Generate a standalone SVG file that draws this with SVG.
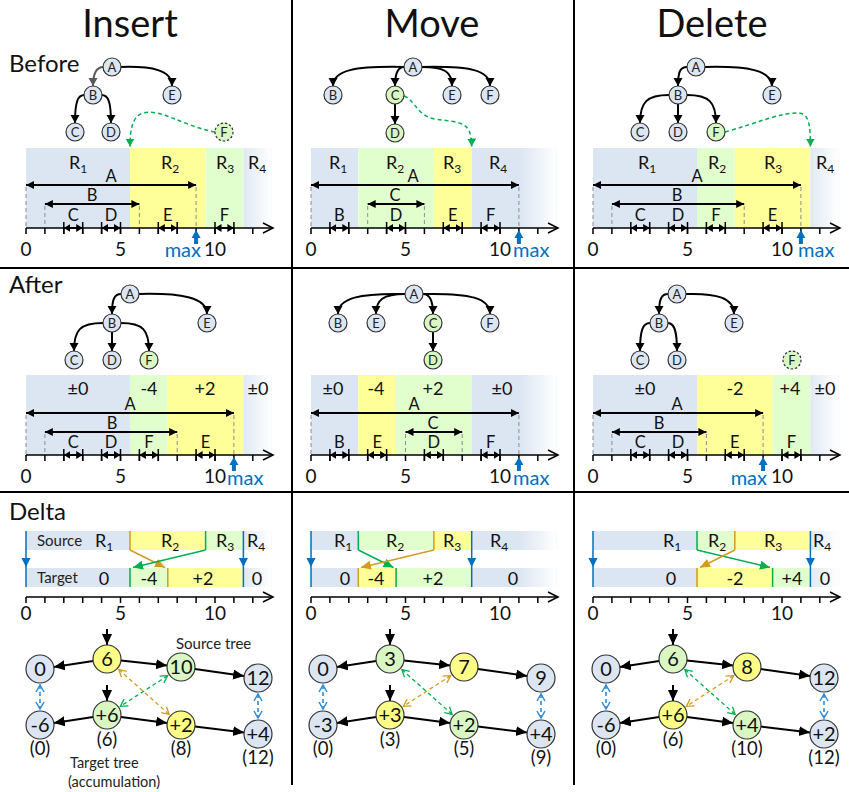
<svg xmlns="http://www.w3.org/2000/svg" width="849" height="792" viewBox="0 0 849 792">
<defs>
<style>
text{font-family:Lato,"Open Sans","DejaVu Sans",sans-serif;fill:#111}
.hd{font-size:38px;text-anchor:middle}
.rl{font-size:24px}
.nt{font-size:13px;text-anchor:middle;fill:#222}
.bl{font-size:18px;text-anchor:middle}
.sb{font-size:12px}
.il{font-size:16.5px;text-anchor:middle}
.num{font-size:19px;text-anchor:middle}
.mx{font-size:20px;fill:#0070C0}
.lb{font-size:15px;fill:#222}
.lbs{font-size:14.5px;fill:#222}
.tn{font-size:20px;text-anchor:middle}
.pc{font-size:18.5px;text-anchor:middle}
.nb{fill:#DCE6F2;stroke:#333;stroke-width:1.2}
.ng{fill:#D9F7C3;stroke:#333;stroke-width:1.2}
.ny{fill:#FFFF88;stroke:#333;stroke-width:1.2}
.dsh{stroke-dasharray:2.5 1.8}
.bb{fill:#DCE6F2}.by{fill:#FFFF99}.bg{fill:#E0FFCC}
.fd{fill:url(#fade)}
.e{fill:none;stroke:#000;stroke-width:2;marker-end:url(#te)}
.eg{fill:none;stroke:#595959;stroke-width:2;marker-end:url(#teg)}
.ax{fill:none;stroke:#000;stroke-width:1.5}
.lg{stroke:#000;stroke-width:2;marker-start:url(#ah);marker-end:url(#ah)}
.sv{stroke:#000;stroke-width:2;marker-start:url(#ahs);marker-end:url(#ahs)}
.et{fill:none;stroke:#000;stroke-width:1.5}
.gd{fill:none;stroke:#8C8C8C;stroke-width:1;stroke-dasharray:4 3}
.gm{fill:none;stroke:#00B050;stroke-width:1.5;stroke-dasharray:4 3;marker-end:url(#gah)}
.mxa{fill:#0070C0}
.og{fill:none;stroke:#D49B1E;stroke-width:1.5}
.gn{fill:none;stroke:#00B050;stroke-width:1.5}
.bu{fill:none;stroke:#0070C0;stroke-width:1.5}
.oga{marker-end:url(#oa)}
.gna{marker-end:url(#ga)}
.bh{fill:#0070C0}
.de{fill:none;stroke:#000;stroke-width:2;marker-end:url(#dt)}
.xo{fill:none;stroke:#D49B1E;stroke-width:1.3;stroke-dasharray:4 3;marker-start:url(#oc);marker-end:url(#oc)}
.xg{fill:none;stroke:#00B050;stroke-width:1.3;stroke-dasharray:4 3;marker-start:url(#gc);marker-end:url(#gc)}
.xb{fill:none;stroke:#2E8BD8;stroke-width:1.6;stroke-dasharray:4 3;marker-start:url(#bc);marker-end:url(#bc)}
.grid{stroke:#000;stroke-width:2}
</style>
<linearGradient id="fade" x1="0" y1="0" x2="1" y2="0">
<stop offset="0" stop-color="#fff" stop-opacity="0"/>
<stop offset="1" stop-color="#fff" stop-opacity="1"/>
</linearGradient>
<marker id="te" markerUnits="userSpaceOnUse" markerWidth="10" markerHeight="10" refX="8" refY="4.5" orient="auto"><path d="M0,0L8,4.5L0,9z"/></marker>
<marker id="teg" markerUnits="userSpaceOnUse" markerWidth="10" markerHeight="10" refX="8" refY="4.5" orient="auto"><path d="M0,0L8,4.5L0,9z" fill="#595959"/></marker>
<marker id="ah" markerUnits="userSpaceOnUse" markerWidth="9" markerHeight="9" refX="8" refY="4" orient="auto-start-reverse"><path d="M0,0L8,4L0,8z"/></marker>
<marker id="ahs" markerUnits="userSpaceOnUse" markerWidth="8" markerHeight="9" refX="6.5" refY="4" orient="auto-start-reverse"><path d="M0,0L6.5,4L0,8z"/></marker>
<marker id="axh" markerUnits="userSpaceOnUse" markerWidth="12" markerHeight="12" refX="10" refY="5" orient="auto" overflow="visible"><path d="M0,0L10,5L0,10" fill="none" stroke="#000" stroke-width="1.5"/></marker>
<marker id="gah" markerUnits="userSpaceOnUse" markerWidth="10" markerHeight="10" refX="8" refY="4.5" orient="auto"><path d="M0,0L8,4.5L0,9z" fill="#00B050"/></marker>
<marker id="oa" markerUnits="userSpaceOnUse" markerWidth="11" markerHeight="10" refX="10" refY="4.5" orient="auto"><path d="M0,0L10,4.5L0,9z" fill="#D49B1E"/></marker>
<marker id="ga" markerUnits="userSpaceOnUse" markerWidth="11" markerHeight="10" refX="10" refY="4.5" orient="auto"><path d="M0,0L10,4.5L0,9z" fill="#00B050"/></marker>
<marker id="dt" markerUnits="userSpaceOnUse" markerWidth="12" markerHeight="12" refX="11" refY="5" orient="auto"><path d="M0,0L11,5L0,10z"/></marker>
<marker id="oc" markerUnits="userSpaceOnUse" markerWidth="10" markerHeight="10" refX="7" refY="4" orient="auto-start-reverse" overflow="visible"><path d="M0,0L7,4L0,8" fill="none" stroke="#D49B1E" stroke-width="1.3"/></marker>
<marker id="gc" markerUnits="userSpaceOnUse" markerWidth="10" markerHeight="10" refX="7" refY="4" orient="auto-start-reverse" overflow="visible"><path d="M0,0L7,4L0,8" fill="none" stroke="#00B050" stroke-width="1.3"/></marker>
<marker id="bc" markerUnits="userSpaceOnUse" markerWidth="10" markerHeight="10" refX="7" refY="4" orient="auto-start-reverse" overflow="visible"><path d="M0,0L7,4L0,8" fill="none" stroke="#2E8BD8" stroke-width="1.5"/></marker>
<g id="axis">
<path class="ax" d="M26,0H273" marker-end="url(#axh)"/>
<path class="ax" d="M26,0v6m18.9,-6v6m18.9,-6v6m18.9,-6v6m18.9,-6v6m18.9,-6v6m18.9,-6v6m18.9,-6v6m18.9,-6v6m18.9,-6v6m18.9,-6v6m18.9,-6v6m18.9,-6v6"/>
</g>
</defs>

<rect width="849" height="792" fill="#fff"/>

<!-- frame -->
<g id="grid">
<line class="grid" x1="292" y1="0" x2="292" y2="785"/>
<line class="grid" x1="574" y1="0" x2="574" y2="785"/>
<line class="grid" x1="0" y1="268" x2="849" y2="268"/>
<line class="grid" x1="0" y1="492" x2="849" y2="492"/>
</g>

<g id="titles">
<text class="hd" x="130" y="37">Insert</text>
<text class="hd" x="432" y="37">Move</text>
<text class="hd" x="712" y="37">Delete</text>
<text class="rl" x="9" y="72">Before</text>
<text class="rl" x="9" y="293">After</text>
<text class="rl" x="9" y="520">Delta</text>
</g>

<!-- ================= INSERT ================= -->
<g id="insert">
 <g id="ins-before-bands">
  <rect class="bb" x="26" y="148" width="104" height="80"/>
  <rect class="by" x="130" y="148" width="75.6" height="80"/>
  <rect class="bg" x="205.6" y="148" width="37.8" height="80"/>
  <rect class="bb" x="243.4" y="148" width="28.3" height="80"/>
  <rect class="fd" x="239.6" y="148" width="32.1" height="80"/>
  <text class="bl" x="78" y="169">R<tspan class="sb" dy="4">1</tspan></text>
  <text class="bl" x="170" y="169">R<tspan class="sb" dy="4">2</tspan></text>
  <text class="bl" x="225" y="169">R<tspan class="sb" dy="4">3</tspan></text>
  <text class="bl" x="257" y="169">R<tspan class="sb" dy="4">4</tspan></text>
 </g>
 <g id="ins-before-intervals">
  <path class="gd" d="M26,187V228M196.1,187V228M44.9,206V228M139.4,206V228"/>
  <line class="lg" x1="26" y1="185" x2="196.1" y2="185"/>
  <line class="lg" x1="44.9" y1="204" x2="139.4" y2="204"/>
  <text class="il" x="111" y="182">A</text>
  <text class="il" x="92" y="201">B</text>
  <use href="#axis" y="228"/>
  <path class="et" d="M63.8,222v12M82.7,222v12M101.6,222v12M120.5,222v12M158.3,222v12M177.2,222v12M215,222v12M233.9,222v12"/>
  <line class="sv" x1="63.8" y1="228" x2="82.7" y2="228"/>
  <line class="sv" x1="101.6" y1="228" x2="120.5" y2="228"/>
  <line class="sv" x1="158.3" y1="228" x2="177.2" y2="228"/>
  <line class="sv" x1="215" y1="228" x2="233.9" y2="228"/>
  <text class="il" x="73.3" y="221">C</text>
  <text class="il" x="111" y="221">D</text>
  <text class="il" x="167.8" y="221">E</text>
  <text class="il" x="224.5" y="221">F</text>
  <text class="num" x="26" y="256">0</text>
  <text class="num" x="120.5" y="256">5</text>
  <text class="num" x="215" y="256">10</text>
  <path class="mxa" d="M196.1,230l4.5,8h-2.5v6h-4v-6h-2.5z"/>
  <text class="mx" x="201" y="257" text-anchor="end">max</text>
 </g>
 <g id="ins-before-links">
  <path class="eg" d="M103.5,67C96,67 93,73 93,86"/>
  <path class="e" d="M120.5,67C152,66 172,70 172,86"/>
  <path class="e" d="M84.5,95C78,95 75,101 75,123"/>
  <path class="e" d="M101.5,95C108,95 111,101 111,123"/>
  <path class="gm" d="M215,132C183,126 160,108 143,113C133,116 130,128 130,146.5"/>
 </g>
 <g id="ins-b-A"><circle class="nb" cx="112" cy="67" r="9"/><text class="nt" x="112" y="71.5">A</text></g>
 <g id="ins-b-B"><circle class="nb" cx="93" cy="95" r="9"/><text class="nt" x="93" y="99.5">B</text></g>
 <g id="ins-b-E"><circle class="nb" cx="172" cy="95" r="9"/><text class="nt" x="172" y="99.5">E</text></g>
 <g id="ins-b-C"><circle class="nb" cx="75" cy="132" r="9"/><text class="nt" x="75" y="136.5">C</text></g>
 <g id="ins-b-D"><circle class="nb" cx="111" cy="132" r="9"/><text class="nt" x="111" y="136.5">D</text></g>
 <g id="ins-b-F"><circle class="ng dsh" cx="224" cy="132" r="9"/><text class="nt" x="224" y="136.5">F</text></g>

 <g id="ins-after-bands">
  <rect class="bb" x="26" y="375" width="104" height="80"/>
  <rect class="bg" x="130" y="375" width="37.8" height="80"/>
  <rect class="by" x="167.8" y="375" width="75.6" height="80"/>
  <rect class="bb" x="243.4" y="375" width="28.3" height="80"/>
  <rect class="fd" x="239.6" y="375" width="32.1" height="80"/>
  <text class="bl" x="78" y="395">±0</text>
  <text class="bl" x="149" y="395">-4</text>
  <text class="bl" x="205" y="395">+2</text>
  <text class="bl" x="258" y="395">±0</text>
 </g>
 <g id="ins-after-intervals">
  <path class="gd" d="M26,415V455M233.9,415V455M44.9,434V455M177.2,434V455"/>
  <line class="lg" x1="26" y1="413" x2="233.9" y2="413"/>
  <line class="lg" x1="44.9" y1="432" x2="177.2" y2="432"/>
  <text class="il" x="130" y="410">A</text>
  <text class="il" x="112" y="429">B</text>
  <use href="#axis" y="455"/>
  <path class="et" d="M63.8,449v12M82.7,449v12M101.6,449v12M120.5,449v12M139.4,449v12M158.3,449v12M196.1,449v12M215,449v12"/>
  <line class="sv" x1="63.8" y1="455" x2="82.7" y2="455"/>
  <line class="sv" x1="101.6" y1="455" x2="120.5" y2="455"/>
  <line class="sv" x1="139.4" y1="455" x2="158.3" y2="455"/>
  <line class="sv" x1="196.1" y1="455" x2="215" y2="455"/>
  <text class="il" x="73.3" y="448">C</text>
  <text class="il" x="111" y="448">D</text>
  <text class="il" x="148.9" y="448">F</text>
  <text class="il" x="205.6" y="448">E</text>
  <text class="num" x="26" y="483">0</text>
  <text class="num" x="120.5" y="483">5</text>
  <text class="num" x="215" y="483">10</text>
  <path class="mxa" d="M233.9,457l4.5,8h-2.5v6h-4v-6h-2.5z"/>
  <text class="mx" x="227" y="485">max</text>
 </g>
 <g id="ins-after-links">
  <path class="e" d="M121,294C114,294 112,300 112,314"/>
  <path class="e" d="M139,294C180,293 207,297 207,314"/>
  <path class="e" d="M103,323C80,323 74,330 74,351"/>
  <path class="e" d="M112,332L112,351"/>
  <path class="e" d="M121,323C143,323 149,330 149,351"/>
 </g>
 <g id="ins-a-A"><circle class="nb" cx="130" cy="294" r="9"/><text class="nt" x="130" y="298.5">A</text></g>
 <g id="ins-a-B"><circle class="nb" cx="112" cy="323" r="9"/><text class="nt" x="112" y="327.5">B</text></g>
 <g id="ins-a-E"><circle class="nb" cx="207" cy="323" r="9"/><text class="nt" x="207" y="327.5">E</text></g>
 <g id="ins-a-C"><circle class="nb" cx="74" cy="360" r="9"/><text class="nt" x="74" y="364.5">C</text></g>
 <g id="ins-a-D"><circle class="nb" cx="112" cy="360" r="9"/><text class="nt" x="112" y="364.5">D</text></g>
 <g id="ins-a-F"><circle class="ng" cx="149" cy="360" r="9"/><text class="nt" x="149" y="364.5">F</text></g>

 <g id="ins-delta-bars">
  <rect class="bb" x="26" y="531" width="104" height="19"/>
  <rect class="by" x="130" y="531" width="75.6" height="19"/>
  <rect class="bg" x="205.6" y="531" width="37.8" height="19"/>
  <rect class="bb" x="243.4" y="531" width="28.3" height="19"/>
  <rect class="fd" x="239.6" y="531" width="32.1" height="19"/>
  <rect class="bb" x="26" y="568" width="104" height="19"/>
  <rect class="bg" x="130" y="568" width="37.8" height="19"/>
  <rect class="by" x="167.8" y="568" width="75.6" height="19"/>
  <rect class="bb" x="243.4" y="568" width="28.3" height="19"/>
  <rect class="fd" x="239.6" y="568" width="32.1" height="19"/>
  <text class="lb" x="37" y="546">Source</text>
  <text class="lb" x="37" y="583">Target</text>
  <text class="bl" x="104" y="547">R<tspan class="sb" dy="4">1</tspan></text>
  <text class="bl" x="170" y="547">R<tspan class="sb" dy="4">2</tspan></text>
  <text class="bl" x="225" y="547">R<tspan class="sb" dy="4">3</tspan></text>
  <text class="bl" x="256" y="547">R<tspan class="sb" dy="4">4</tspan></text>
  <text class="bl" x="104" y="585">0</text>
  <text class="bl" x="149" y="585">-4</text>
  <text class="bl" x="203" y="585">+2</text>
  <text class="bl" x="257" y="585">0</text>
 </g>
 <g id="ins-delta-links">
  <path class="og" d="M130,531V550M167.8,568V587"/>
  <path class="og oga" d="M130,550L165,567.5"/>
  <path class="gn" d="M205.6,531V550M130,568V587"/>
  <path class="gn gna" d="M205.6,550L133,567.5"/>
  <path class="bu" d="M26,531V587M243.4,531V587"/>
  <path class="bh" d="M21.5,558H30.5L26,567zM238.9,558H247.9L243.4,567z"/>
 </g>
 <use href="#axis" y="597"/>
 <text class="num" x="26" y="620">0</text>
 <text class="num" x="120.5" y="620">5</text>
 <text class="num" x="215" y="620">10</text>

 <g id="ins-tree-links">
  <path class="de" d="M107,629V645"/>
  <path class="de" d="M107,685V701"/>
  <path class="de" d="M93.2,661.1L53.8,666.9"/>
  <path class="de" d="M120.9,660.5L167.1,665.5"/>
  <path class="de" d="M194.9,669L244.1,676"/>
  <path class="de" d="M93.2,717.1L53.8,722.9"/>
  <path class="de" d="M120.9,716.9L167.1,723.1"/>
  <path class="de" d="M194.9,726.6L244.1,732.4"/>
  <path class="xo" d="M118.9,669.6L169.1,714.4"/>
  <path class="xg" d="M167.6,675.7L120.4,706.3"/>
  <path class="xb" d="M40,685V709"/>
  <path class="xb" d="M258,694V718"/>
 </g>
 <g id="ins-s-6"><circle class="ny" cx="107" cy="659" r="14"/><text class="tn" x="107" y="666">6</text></g>
 <g id="ins-s-0"><circle class="nb" cx="40" cy="669" r="14"/><text class="tn" x="40" y="676">0</text></g>
 <g id="ins-s-10"><circle class="ng" cx="181" cy="667" r="14"/><text class="tn" x="181" y="674">10</text></g>
 <g id="ins-s-12"><circle class="nb" cx="258" cy="678" r="14"/><text class="tn" x="258" y="685">12</text></g>
 <g id="ins-t-p6"><circle class="ng" cx="107" cy="715" r="14"/><text class="tn" x="107" y="722">+6</text></g>
 <g id="ins-t-m6"><circle class="nb" cx="40" cy="725" r="14"/><text class="tn" x="40" y="732">-6</text></g>
 <g id="ins-t-p2"><circle class="ny" cx="181" cy="725" r="14"/><text class="tn" x="181" y="732">+2</text></g>
 <g id="ins-t-p4"><circle class="nb" cx="258" cy="734" r="14"/><text class="tn" x="258" y="741">+4</text></g>
 <text class="pc" x="107" y="746">(6)</text>
 <text class="pc" x="40" y="755">(0)</text>
 <text class="pc" x="181" y="755">(8)</text>
 <text class="pc" x="258" y="764">(12)</text>
 <text class="lb" x="176" y="649">Source tree</text>
 <text class="lbs" x="70" y="768">Target tree</text>
 <text class="lbs" x="68" y="787">(accumulation)</text>
</g>

<!-- ================= MOVE ================= -->
<g id="move" transform="translate(285,0)">
 <g id="mov-before-bands">
  <rect class="bb" x="26" y="148" width="47.3" height="80"/>
  <rect class="bg" x="73.3" y="148" width="75.6" height="80"/>
  <rect class="by" x="148.9" y="148" width="37.8" height="80"/>
  <rect class="bb" x="186.7" y="148" width="85" height="80"/>
  <rect class="fd" x="235" y="148" width="36.7" height="80"/>
  <text class="bl" x="53" y="169">R<tspan class="sb" dy="4">1</tspan></text>
  <text class="bl" x="110" y="169">R<tspan class="sb" dy="4">2</tspan></text>
  <text class="bl" x="167" y="169">R<tspan class="sb" dy="4">3</tspan></text>
  <text class="bl" x="213" y="169">R<tspan class="sb" dy="4">4</tspan></text>
 </g>
 <g id="mov-before-intervals">
  <path class="gd" d="M26,187V228M233.9,187V228M82.7,206V228M139.4,206V228"/>
  <line class="lg" x1="26" y1="185" x2="233.9" y2="185"/>
  <line class="lg" x1="82.7" y1="204" x2="139.4" y2="204"/>
  <text class="il" x="128" y="182">A</text>
  <text class="il" x="110" y="201">C</text>
  <use href="#axis" y="228"/>
  <path class="et" d="M44.9,222v12M63.8,222v12M101.6,222v12M120.5,222v12M158.3,222v12M177.2,222v12M196.1,222v12M215,222v12"/>
  <line class="sv" x1="44.9" y1="228" x2="63.8" y2="228"/>
  <line class="sv" x1="101.6" y1="228" x2="120.5" y2="228"/>
  <line class="sv" x1="158.3" y1="228" x2="177.2" y2="228"/>
  <line class="sv" x1="196.1" y1="228" x2="215" y2="228"/>
  <text class="il" x="54.4" y="221">B</text>
  <text class="il" x="111" y="221">D</text>
  <text class="il" x="167.8" y="221">E</text>
  <text class="il" x="205.6" y="221">F</text>
  <text class="num" x="26" y="256">0</text>
  <text class="num" x="120.5" y="256">5</text>
  <text class="num" x="215" y="256">10</text>
  <path class="mxa" d="M233.9,230l4.5,8h-2.5v6h-4v-6h-2.5z"/>
  <text class="mx" x="228" y="257">max</text>
 </g>
 <g id="mov-before-links">
  <path class="e" d="M119,67C70,66 48,70 48,86"/>
  <path class="e" d="M119,67C113,67 110,72 110,86"/>
  <path class="e" d="M137,67C160,67 167,72 167,86"/>
  <path class="e" d="M137,67C185,66 205,70 205,86"/>
  <path class="e" d="M110,104L110,124"/>
  <path class="gm" d="M119,96C130,100 132,116 150,119C175,123 186.5,120 186.7,146.5"/>
 </g>
 <g id="mov-b-A"><circle class="nb" cx="128" cy="67" r="9"/><text class="nt" x="128" y="71.5">A</text></g>
 <g id="mov-b-B"><circle class="nb" cx="48" cy="95" r="9"/><text class="nt" x="48" y="99.5">B</text></g>
 <g id="mov-b-C"><circle class="ng" cx="110" cy="95" r="9"/><text class="nt" x="110" y="99.5">C</text></g>
 <g id="mov-b-E"><circle class="nb" cx="167" cy="95" r="9"/><text class="nt" x="167" y="99.5">E</text></g>
 <g id="mov-b-F"><circle class="nb" cx="205" cy="95" r="9"/><text class="nt" x="205" y="99.5">F</text></g>
 <g id="mov-b-D"><circle class="ng" cx="110" cy="133" r="9"/><text class="nt" x="110" y="137.5">D</text></g>

 <g id="mov-after-bands">
  <rect class="bb" x="26" y="375" width="47.3" height="80"/>
  <rect class="by" x="73.3" y="375" width="37.8" height="80"/>
  <rect class="bg" x="111.1" y="375" width="75.6" height="80"/>
  <rect class="bb" x="186.7" y="375" width="85" height="80"/>
  <rect class="fd" x="235" y="375" width="36.7" height="80"/>
  <text class="bl" x="48" y="395">±0</text>
  <text class="bl" x="91" y="395">-4</text>
  <text class="bl" x="148" y="395">+2</text>
  <text class="bl" x="217" y="395">±0</text>
 </g>
 <g id="mov-after-intervals">
  <path class="gd" d="M26,415V455M233.9,415V455M120.5,434V455M177.2,434V455"/>
  <line class="lg" x1="26" y1="413" x2="233.9" y2="413"/>
  <line class="lg" x1="120.5" y1="432" x2="177.2" y2="432"/>
  <text class="il" x="129" y="410">A</text>
  <text class="il" x="148" y="429">C</text>
  <use href="#axis" y="455"/>
  <path class="et" d="M44.9,449v12M63.8,449v12M82.7,449v12M101.6,449v12M139.4,449v12M158.3,449v12M196.1,449v12M215,449v12"/>
  <line class="sv" x1="44.9" y1="455" x2="63.8" y2="455"/>
  <line class="sv" x1="82.7" y1="455" x2="101.6" y2="455"/>
  <line class="sv" x1="139.4" y1="455" x2="158.3" y2="455"/>
  <line class="sv" x1="196.1" y1="455" x2="215" y2="455"/>
  <text class="il" x="54.4" y="448">B</text>
  <text class="il" x="92.2" y="448">E</text>
  <text class="il" x="148.9" y="448">D</text>
  <text class="il" x="205.6" y="448">F</text>
  <text class="num" x="26" y="483">0</text>
  <text class="num" x="120.5" y="483">5</text>
  <text class="num" x="215" y="483">10</text>
  <path class="mxa" d="M233.9,457l4.5,8h-2.5v6h-4v-6h-2.5z"/>
  <text class="mx" x="228" y="485">max</text>
 </g>
 <g id="mov-after-links">
  <path class="e" d="M120,294C75,293 53,298 53,314"/>
  <path class="e" d="M120,294C98,294 91,300 91,314"/>
  <path class="e" d="M138,294C145,294 148,300 148,314"/>
  <path class="e" d="M138,294C185,293 205,298 205,314"/>
  <path class="e" d="M148,332L148,351"/>
 </g>
 <g id="mov-a-A"><circle class="nb" cx="129" cy="294" r="9"/><text class="nt" x="129" y="298.5">A</text></g>
 <g id="mov-a-B"><circle class="nb" cx="53" cy="323" r="9"/><text class="nt" x="53" y="327.5">B</text></g>
 <g id="mov-a-E"><circle class="nb" cx="91" cy="323" r="9"/><text class="nt" x="91" y="327.5">E</text></g>
 <g id="mov-a-C"><circle class="ng" cx="148" cy="323" r="9"/><text class="nt" x="148" y="327.5">C</text></g>
 <g id="mov-a-F"><circle class="nb" cx="205" cy="323" r="9"/><text class="nt" x="205" y="327.5">F</text></g>
 <g id="mov-a-D"><circle class="ng" cx="148" cy="360" r="9"/><text class="nt" x="148" y="364.5">D</text></g>

 <g id="mov-delta-bars">
  <rect class="bb" x="26" y="531" width="47.3" height="19"/>
  <rect class="bg" x="73.3" y="531" width="75.6" height="19"/>
  <rect class="by" x="148.9" y="531" width="37.8" height="19"/>
  <rect class="bb" x="186.7" y="531" width="85" height="19"/>
  <rect class="fd" x="235" y="531" width="36.7" height="19"/>
  <rect class="bb" x="26" y="568" width="47.3" height="19"/>
  <rect class="by" x="73.3" y="568" width="37.8" height="19"/>
  <rect class="bg" x="111.1" y="568" width="75.6" height="19"/>
  <rect class="bb" x="186.7" y="568" width="85" height="19"/>
  <rect class="fd" x="235" y="568" width="36.7" height="19"/>
  <text class="bl" x="58" y="547">R<tspan class="sb" dy="4">1</tspan></text>
  <text class="bl" x="110" y="547">R<tspan class="sb" dy="4">2</tspan></text>
  <text class="bl" x="167" y="547">R<tspan class="sb" dy="4">3</tspan></text>
  <text class="bl" x="214" y="547">R<tspan class="sb" dy="4">4</tspan></text>
  <text class="bl" x="60" y="585">0</text>
  <text class="bl" x="91" y="585">-4</text>
  <text class="bl" x="148" y="585">+2</text>
  <text class="bl" x="228" y="585">0</text>
 </g>
 <g id="mov-delta-links">
  <path class="gn" d="M73.3,531V550M111.1,568V587"/>
  <path class="gn gna" d="M73.3,550L108.5,567.5"/>
  <path class="og" d="M148.9,531V550M73.3,568V587"/>
  <path class="og oga" d="M148.9,550L76,567.5"/>
  <path class="bu" d="M26,531V587M186.7,531V587"/>
  <path class="bh" d="M21.5,558H30.5L26,567zM182.2,558H191.2L186.7,567z"/>
 </g>
 <use href="#axis" y="597"/>
 <text class="num" x="26" y="620">0</text>
 <text class="num" x="120.5" y="620">5</text>
 <text class="num" x="215" y="620">10</text>

 <g transform="translate(-2,0)">
  <g id="mov-tree-links">
   <path class="de" d="M107,629V645"/>
   <path class="de" d="M107,685V701"/>
   <path class="de" d="M93.2,661.1L53.8,666.9"/>
   <path class="de" d="M120.9,660.5L167.1,665.5"/>
   <path class="de" d="M194.9,669L244.1,676"/>
   <path class="de" d="M93.2,717.1L53.8,722.9"/>
   <path class="de" d="M120.9,716.9L167.1,723.1"/>
   <path class="de" d="M194.9,726.6L244.1,732.4"/>
   <path class="xg" d="M118.9,669.6L169.1,714.4"/>
   <path class="xo" d="M167.6,675.7L120.4,706.3"/>
   <path class="xb" d="M40,685V709"/>
   <path class="xb" d="M258,694V718"/>
  </g>
  <g id="mov-s-3"><circle class="ng" cx="107" cy="659" r="14"/><text class="tn" x="107" y="666">3</text></g>
  <g id="mov-s-0"><circle class="nb" cx="40" cy="669" r="14"/><text class="tn" x="40" y="676">0</text></g>
  <g id="mov-s-7"><circle class="ny" cx="181" cy="667" r="14"/><text class="tn" x="181" y="674">7</text></g>
  <g id="mov-s-9"><circle class="nb" cx="258" cy="678" r="14"/><text class="tn" x="258" y="685">9</text></g>
  <g id="mov-t-p3"><circle class="ny" cx="107" cy="715" r="14"/><text class="tn" x="107" y="722">+3</text></g>
  <g id="mov-t-m3"><circle class="nb" cx="40" cy="725" r="14"/><text class="tn" x="40" y="732">-3</text></g>
  <g id="mov-t-p2"><circle class="ng" cx="181" cy="725" r="14"/><text class="tn" x="181" y="732">+2</text></g>
  <g id="mov-t-p4"><circle class="nb" cx="258" cy="734" r="14"/><text class="tn" x="258" y="741">+4</text></g>
  <text class="pc" x="107" y="746">(3)</text>
  <text class="pc" x="40" y="755">(0)</text>
  <text class="pc" x="181" y="755">(5)</text>
  <text class="pc" x="258" y="764">(9)</text>
 </g>
</g>

<!-- ================= DELETE ================= -->
<g id="delete" transform="translate(567,0)">
 <g id="del-before-bands">
  <rect class="bb" x="26" y="148" width="104" height="80"/>
  <rect class="bg" x="130" y="148" width="37.8" height="80"/>
  <rect class="by" x="167.8" y="148" width="75.6" height="80"/>
  <rect class="bb" x="243.4" y="148" width="28.3" height="80"/>
  <rect class="fd" x="239.6" y="148" width="32.1" height="80"/>
  <text class="bl" x="80" y="169">R<tspan class="sb" dy="4">1</tspan></text>
  <text class="bl" x="150" y="169">R<tspan class="sb" dy="4">2</tspan></text>
  <text class="bl" x="206" y="169">R<tspan class="sb" dy="4">3</tspan></text>
  <text class="bl" x="258" y="169">R<tspan class="sb" dy="4">4</tspan></text>
 </g>
 <g id="del-before-intervals">
  <path class="gd" d="M26,187V228M233.9,187V228M44.9,206V228M177.2,206V228"/>
  <line class="lg" x1="26" y1="185" x2="233.9" y2="185"/>
  <line class="lg" x1="44.9" y1="204" x2="177.2" y2="204"/>
  <text class="il" x="130" y="182">A</text>
  <text class="il" x="110" y="201">B</text>
  <use href="#axis" y="228"/>
  <path class="et" d="M63.8,222v12M82.7,222v12M101.6,222v12M120.5,222v12M139.4,222v12M158.3,222v12M196.1,222v12M215,222v12"/>
  <line class="sv" x1="63.8" y1="228" x2="82.7" y2="228"/>
  <line class="sv" x1="101.6" y1="228" x2="120.5" y2="228"/>
  <line class="sv" x1="139.4" y1="228" x2="158.3" y2="228"/>
  <line class="sv" x1="196.1" y1="228" x2="215" y2="228"/>
  <text class="il" x="73.3" y="221">C</text>
  <text class="il" x="111" y="221">D</text>
  <text class="il" x="148.9" y="221">F</text>
  <text class="il" x="205.6" y="221">E</text>
  <text class="num" x="26" y="256">0</text>
  <text class="num" x="120.5" y="256">5</text>
  <text class="num" x="215" y="256">10</text>
  <path class="mxa" d="M233.9,230l4.5,8h-2.5v6h-4v-6h-2.5z"/>
  <text class="mx" x="231" y="257">max</text>
 </g>
 <g id="del-before-links">
  <path class="e" d="M120,67C113,67 111,72 111,86"/>
  <path class="e" d="M138,67C180,66 205,70 205,86"/>
  <path class="e" d="M102,95C80,95 73,102 73,123"/>
  <path class="e" d="M111,104L111,123"/>
  <path class="e" d="M120,95C142,95 149,102 149,123"/>
  <path class="gm" d="M158,132C190,123 215,112 232,113C242,114 243.4,125 243.4,146.5"/>
 </g>
 <g id="del-b-A"><circle class="nb" cx="129" cy="67" r="9"/><text class="nt" x="129" y="71.5">A</text></g>
 <g id="del-b-B"><circle class="nb" cx="111" cy="95" r="9"/><text class="nt" x="111" y="99.5">B</text></g>
 <g id="del-b-E"><circle class="nb" cx="205" cy="95" r="9"/><text class="nt" x="205" y="99.5">E</text></g>
 <g id="del-b-C"><circle class="nb" cx="73" cy="132" r="9"/><text class="nt" x="73" y="136.5">C</text></g>
 <g id="del-b-D"><circle class="nb" cx="111" cy="132" r="9"/><text class="nt" x="111" y="136.5">D</text></g>
 <g id="del-b-F"><circle class="ng" cx="149" cy="132" r="9"/><text class="nt" x="149" y="136.5">F</text></g>

 <g id="del-after-bands">
  <rect class="bb" x="26" y="375" width="104" height="80"/>
  <rect class="by" x="130" y="375" width="75.6" height="80"/>
  <rect class="bg" x="205.6" y="375" width="37.8" height="80"/>
  <rect class="bb" x="243.4" y="375" width="28.3" height="80"/>
  <rect class="fd" x="239.6" y="375" width="32.1" height="80"/>
  <text class="bl" x="78" y="395">±0</text>
  <text class="bl" x="168" y="395">-2</text>
  <text class="bl" x="223" y="395">+4</text>
  <text class="bl" x="258" y="395">±0</text>
 </g>
 <g id="del-after-intervals">
  <path class="gd" d="M26,415V455M196.1,415V455M44.9,434V455M139.4,434V455"/>
  <line class="lg" x1="26" y1="413" x2="196.1" y2="413"/>
  <line class="lg" x1="44.9" y1="432" x2="139.4" y2="432"/>
  <text class="il" x="110" y="410">A</text>
  <text class="il" x="92" y="429">B</text>
  <use href="#axis" y="455"/>
  <path class="et" d="M63.8,449v12M82.7,449v12M101.6,449v12M120.5,449v12M158.3,449v12M177.2,449v12M215,449v12M233.9,449v12"/>
  <line class="sv" x1="63.8" y1="455" x2="82.7" y2="455"/>
  <line class="sv" x1="101.6" y1="455" x2="120.5" y2="455"/>
  <line class="sv" x1="158.3" y1="455" x2="177.2" y2="455"/>
  <line class="sv" x1="215" y1="455" x2="233.9" y2="455"/>
  <text class="il" x="73.3" y="448">C</text>
  <text class="il" x="111" y="448">D</text>
  <text class="il" x="167.8" y="448">E</text>
  <text class="il" x="224.5" y="448">F</text>
  <text class="num" x="26" y="483">0</text>
  <text class="num" x="120.5" y="483">5</text>
  <text class="num" x="215" y="483">10</text>
  <path class="mxa" d="M196.1,457l4.5,8h-2.5v6h-4v-6h-2.5z"/>
  <text class="mx" x="200" y="485" text-anchor="end">max</text>
 </g>
 <g id="del-after-links">
  <path class="e" d="M101,294C94,294 92,300 92,314"/>
  <path class="e" d="M119,294C150,293 167,298 167,314"/>
  <path class="e" d="M83,323C76,323 73,330 73,351"/>
  <path class="e" d="M101,323C107,323 110,330 110,351"/>
 </g>
 <g id="del-a-A"><circle class="nb" cx="110" cy="294" r="9"/><text class="nt" x="110" y="298.5">A</text></g>
 <g id="del-a-B"><circle class="nb" cx="92" cy="323" r="9"/><text class="nt" x="92" y="327.5">B</text></g>
 <g id="del-a-E"><circle class="nb" cx="167" cy="323" r="9"/><text class="nt" x="167" y="327.5">E</text></g>
 <g id="del-a-C"><circle class="nb" cx="73" cy="360" r="9"/><text class="nt" x="73" y="364.5">C</text></g>
 <g id="del-a-D"><circle class="nb" cx="110" cy="360" r="9"/><text class="nt" x="110" y="364.5">D</text></g>
 <g id="del-a-F"><circle class="ng dsh" cx="225" cy="360" r="9"/><text class="nt" x="225" y="364.5">F</text></g>

 <g id="del-delta-bars">
  <rect class="bb" x="26" y="531" width="104" height="19"/>
  <rect class="bg" x="130" y="531" width="37.8" height="19"/>
  <rect class="by" x="167.8" y="531" width="75.6" height="19"/>
  <rect class="bb" x="243.4" y="531" width="28.3" height="19"/>
  <rect class="fd" x="239.6" y="531" width="32.1" height="19"/>
  <rect class="bb" x="26" y="568" width="104" height="19"/>
  <rect class="by" x="130" y="568" width="75.6" height="19"/>
  <rect class="bg" x="205.6" y="568" width="37.8" height="19"/>
  <rect class="bb" x="243.4" y="568" width="28.3" height="19"/>
  <rect class="fd" x="239.6" y="568" width="32.1" height="19"/>
  <text class="bl" x="105" y="547">R<tspan class="sb" dy="4">1</tspan></text>
  <text class="bl" x="150" y="547">R<tspan class="sb" dy="4">2</tspan></text>
  <text class="bl" x="206" y="547">R<tspan class="sb" dy="4">3</tspan></text>
  <text class="bl" x="255" y="547">R<tspan class="sb" dy="4">4</tspan></text>
  <text class="bl" x="104" y="585">0</text>
  <text class="bl" x="168" y="585">-2</text>
  <text class="bl" x="225" y="585">+4</text>
  <text class="bl" x="258" y="585">0</text>
 </g>
 <g id="del-delta-links">
  <path class="gn" d="M130,531V550M205.6,568V587"/>
  <path class="gn gna" d="M130,550L203,567.5"/>
  <path class="og" d="M167.8,531V550M130,568V587"/>
  <path class="og oga" d="M167.8,550L133,567.5"/>
  <path class="bu" d="M26,531V587M243.4,531V587"/>
  <path class="bh" d="M21.5,558H30.5L26,567zM238.9,558H247.9L243.4,567z"/>
 </g>
 <use href="#axis" y="597"/>
 <text class="num" x="26" y="620">0</text>
 <text class="num" x="120.5" y="620">5</text>
 <text class="num" x="215" y="620">10</text>

 <g transform="translate(-1,0)">
  <g id="del-tree-links">
   <path class="de" d="M107,629V645"/>
   <path class="de" d="M107,685V701"/>
   <path class="de" d="M93.2,661.1L53.8,666.9"/>
   <path class="de" d="M120.9,660.5L167.1,665.5"/>
   <path class="de" d="M194.9,669L244.1,676"/>
   <path class="de" d="M93.2,717.1L53.8,722.9"/>
   <path class="de" d="M120.9,716.9L167.1,723.1"/>
   <path class="de" d="M194.9,726.6L244.1,732.4"/>
   <path class="xg" d="M118.9,669.6L169.1,714.4"/>
   <path class="xo" d="M167.6,675.7L120.4,706.3"/>
   <path class="xb" d="M40,685V709"/>
   <path class="xb" d="M258,694V718"/>
  </g>
  <g id="del-s-6"><circle class="ng" cx="107" cy="659" r="14"/><text class="tn" x="107" y="666">6</text></g>
  <g id="del-s-0"><circle class="nb" cx="40" cy="669" r="14"/><text class="tn" x="40" y="676">0</text></g>
  <g id="del-s-8"><circle class="ny" cx="181" cy="667" r="14"/><text class="tn" x="181" y="674">8</text></g>
  <g id="del-s-12"><circle class="nb" cx="258" cy="678" r="14"/><text class="tn" x="258" y="685">12</text></g>
  <g id="del-t-p6"><circle class="ny" cx="107" cy="715" r="14"/><text class="tn" x="107" y="722">+6</text></g>
  <g id="del-t-m6"><circle class="nb" cx="40" cy="725" r="14"/><text class="tn" x="40" y="732">-6</text></g>
  <g id="del-t-p4"><circle class="ng" cx="181" cy="725" r="14"/><text class="tn" x="181" y="732">+4</text></g>
  <g id="del-t-p2"><circle class="nb" cx="258" cy="734" r="14"/><text class="tn" x="258" y="741">+2</text></g>
  <text class="pc" x="107" y="746">(6)</text>
  <text class="pc" x="40" y="755">(0)</text>
  <text class="pc" x="181" y="755">(10)</text>
  <text class="pc" x="258" y="764">(12)</text>
 </g>
</g>
</svg>
